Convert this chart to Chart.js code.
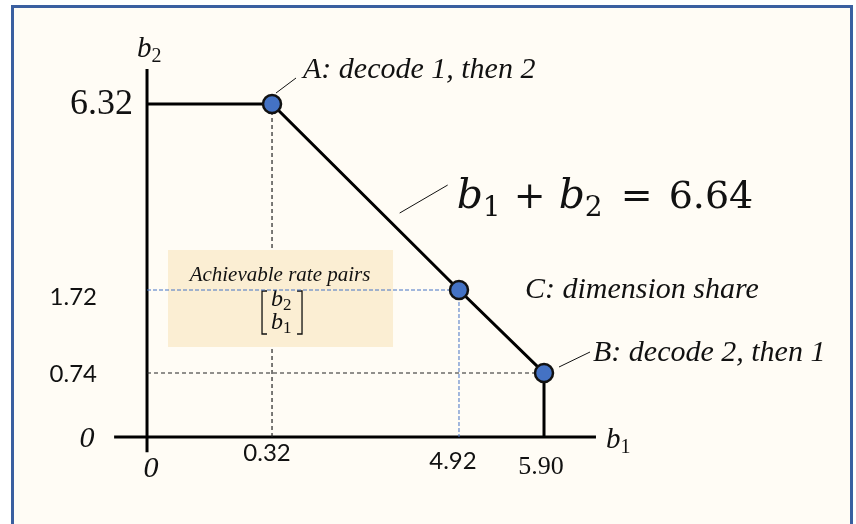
<!DOCTYPE html>
<html>
<head>
<meta charset="utf-8">
<script src="https://cdn.jsdelivr.net/npm/chart.js@4/dist/chart.umd.min.js"></script>
<style>
  html, body { margin: 0; padding: 0; background: #fff; overflow: hidden; }
  #frame { position: absolute; left: 11px; top: 5px; width: 842px; height: 600px;
           box-sizing: border-box; border: 3px solid #3a5fa0; background: #fffcf5; }
  #wrap { position: absolute; left: 0; top: 0; width: 856px; height: 524px; }
</style>
</head>
<body>
<div id="frame"></div>
<div id="wrap"><canvas id="regionChart" width="856" height="524"></canvas></div>
<script>
// corner points of the rate region (b1, b2)
const cornerB1 = [0, 0.32, 4.92, 5.90, 5.90];
const cornerB2 = [6.32, 6.32, 1.72, 0.74, 0];
// marked operating points
const pointNames = ['A', 'C', 'B'];
const pointB1 = [0.32, 4.92, 5.90];
const pointB2 = [6.32, 1.72, 0.74];
const pointNotes = ['A: decode 1, then 2', 'C: dimension share', 'B: decode 2, then 1'];
const sumRate = 6.64;

const xTickValues = [0, 0.32, 4.92, 5.90];
const xTickLabels = ['0', '0.32', '4.92', '5.90'];
const yTickValues = [6.32, 1.72, 0.74, 0];
const yTickLabels = ['6.32', '1.72', '0.74', '0'];

const xAxisRange = [-0.35, 6.53];
const yAxisRange = [-0.2, 6.86];

const serif = '"Liberation Serif", "Times New Roman", serif';
const sans = 'Lato, "Noto Sans", sans-serif';
const mathFont = '"DejaVu Serif", serif';

// the drawing is not to scale, so the axes use a piecewise linear scale
function interp(knots, v, from, to) {
  let i = 0;
  while (i < knots.length - 2 && v > knots[i + 1][from]) i++;
  const a = knots[i], b = knots[i + 1];
  return a[to] + (v - a[from]) * (b[to] - a[to]) / (b[from] - a[from]);
}

class BrokenScale extends Chart.LinearScale {
  getPixelForValue(value) {
    const f = interp(this.options.knots, value, 0, 1);
    return this.isHorizontal() ? this.left + f * this.width : this.bottom - f * this.height;
  }
  getValueForPixel(pixel) {
    const f = this.isHorizontal() ? (pixel - this.left) / this.width : (this.bottom - pixel) / this.height;
    return interp(this.options.knots, f, 1, 0);
  }
}
BrokenScale.id = 'broken';
BrokenScale.defaults = Chart.LinearScale.defaults;
Chart.register(BrokenScale);

const pts = (xs, ys) => xs.map((x, i) => ({ x: x, y: ys[i] }));

// one line of mixed-font text; r.at puts a run at a fixed offset
function drawRuns(ctx, list, x, y) {
  let cx = x;
  list.forEach(r => {
    ctx.font = r.font;
    const px = r.at !== undefined ? x + r.at : cx;
    ctx.fillText(r.text, px, y + (r.dy || 0));
    cx = px + ctx.measureText(r.text).width;
  });
}

const yTickStyle = [
  { font: `36px ${serif}`, dx: -14, dy: 1, align: 'right' },
  { font: `24px ${sans}`, dx: -50, dy: 7, align: 'right' },
  { font: `24px ${sans}`, dx: -50, dy: 1, align: 'right' },
  { font: `italic 30px ${serif}`, dx: -60, dy: 2, align: 'center' }
];
const xTickStyle = [
  { font: `italic 30px ${serif}`, dx: 4, dy: 32 },
  { font: `24px ${sans}`, dx: -5, dy: 16 },
  { font: `24px ${sans}`, dx: -6, dy: 24 },
  { font: `26px ${serif}`, dx: -3, dy: 30 }
];

const BLUE_INDEX = 2;

const regionPlugin = {
  id: 'regionNotes',
  beforeDatasetDraw(chart, args) {
    if (args.index !== BLUE_INDEX) return;
    const ctx = chart.ctx;
    const x0 = chart.scales.x.getPixelForValue(0);
    const yc = chart.scales.y.getPixelForValue(pointB2[1]);
    ctx.save();
    ctx.fillStyle = '#fbeed3';
    ctx.fillRect(x0 + 21, yc - 40, 225, 97);
    ctx.fillStyle = '#111';
    ctx.textBaseline = 'alphabetic';
    ctx.textAlign = 'center';
    ctx.font = `italic 21px ${serif}`;
    ctx.fillText('Achievable rate pairs', x0 + 133, yc - 9);
    ctx.textAlign = 'left';
    const mx = x0 + 124;
    drawRuns(ctx, [{ text: 'b', font: `italic 24px ${serif}` }, { text: '2', font: `17px ${serif}`, dy: 4 }], mx, yc + 16);
    drawRuns(ctx, [{ text: 'b', font: `italic 24px ${serif}` }, { text: '1', font: `17px ${serif}`, dy: 4 }], mx, yc + 39);
    // matrix brackets
    ctx.strokeStyle = '#111';
    ctx.lineWidth = 1.3;
    ctx.beginPath();
    ctx.moveTo(mx - 4, yc + 1); ctx.lineTo(mx - 9, yc + 1); ctx.lineTo(mx - 9, yc + 44); ctx.lineTo(mx - 4, yc + 44);
    ctx.moveTo(mx + 26, yc + 1); ctx.lineTo(mx + 31, yc + 1); ctx.lineTo(mx + 31, yc + 44); ctx.lineTo(mx + 26, yc + 44);
    ctx.stroke();
    ctx.restore();
  },
  afterDatasetsDraw(chart) {
    const ctx = chart.ctx;
    const xs = chart.scales.x, ys = chart.scales.y;
    const x0 = xs.getPixelForValue(0), y0 = ys.getPixelForValue(0);
    ctx.save();
    ctx.fillStyle = '#111';

    // tick labels
    ctx.textBaseline = 'middle';
    yTickValues.forEach((v, i) => {
      const s = yTickStyle[i];
      ctx.font = s.font;
      ctx.textAlign = s.align;
      ctx.fillText(yTickLabels[i], x0 + s.dx, ys.getPixelForValue(v) + s.dy);
    });
    xTickValues.forEach((v, i) => {
      const s = xTickStyle[i];
      ctx.font = s.font;
      ctx.textAlign = 'center';
      ctx.fillText(xTickLabels[i], xs.getPixelForValue(v) + s.dx, y0 + s.dy);
    });

    // axis titles
    ctx.textAlign = 'left';
    ctx.textBaseline = 'alphabetic';
    const yTop = ys.getPixelForValue(yAxisRange[1]);
    drawRuns(ctx, [{ text: 'b', font: `italic 29px ${serif}` }, { text: '2', font: `20px ${serif}`, dy: 5 }], x0 - 10, yTop - 12);
    const xEnd = xs.getPixelForValue(xAxisRange[1]);
    drawRuns(ctx, [{ text: 'b', font: `italic 29px ${serif}` }, { text: '1', font: `20px ${serif}`, dy: 5 }], xEnd + 10, y0 + 11);

    // point notes with leader lines
    const P = pointB1.map((v, i) => ({ x: xs.getPixelForValue(v), y: ys.getPixelForValue(pointB2[i]) }));
    ctx.strokeStyle = '#111';
    ctx.lineWidth = 1;
    ctx.beginPath();
    ctx.moveTo(P[0].x + 4, P[0].y - 11); ctx.lineTo(P[0].x + 24, P[0].y - 26);
    ctx.moveTo(P[2].x + 15, P[2].y - 6); ctx.lineTo(P[2].x + 46, P[2].y - 21);
    const t = 0.64;
    const lx = P[0].x + t * (P[1].x - P[0].x) + 8, ly = P[0].y + t * (P[1].y - P[0].y) - 10;
    ctx.moveTo(lx, ly); ctx.lineTo(lx + 48, ly - 28);
    ctx.stroke();

    ctx.font = `italic 30px ${serif}`;
    ctx.fillText(pointNotes[0], P[0].x + 31, P[0].y - 26);
    ctx.fillText(pointNotes[1], P[1].x + 66, P[1].y + 8);
    ctx.fillText(pointNotes[2], P[2].x + 49, P[2].y - 12);

    // sum-rate equation
    const ex = lx + 57, ey = ly - 5;
    drawRuns(ctx, [
      { text: 'b', font: `italic 41px ${mathFont}`, at: 0 },
      { text: '1', font: `28px ${mathFont}`, dy: 8, at: 26 },
      { text: '+', font: `38px ${mathFont}`, at: 57 },
      { text: 'b', font: `italic 41px ${mathFont}`, at: 102 },
      { text: '2', font: `28px ${mathFont}`, dy: 8, at: 128 },
      { text: '=', font: `38px ${mathFont}`, at: 164 },
      { text: sumRate.toFixed(2), font: `38px ${mathFont}`, at: 212 }
    ], ex, ey);
    ctx.restore();
  }
};

const ctx = document.getElementById('regionChart').getContext('2d');
new Chart(ctx, {
  type: 'line',
  data: {
    datasets: [
      {
        data: pts(pointB1, pointB2),
        showLine: false,
        pointRadius: 9,
        pointBackgroundColor: '#4472c4',
        pointBorderColor: '#111',
        pointBorderWidth: 2.5,
        order: 0
      },
      {
        data: pts(cornerB1, cornerB2),
        borderColor: '#000',
        borderWidth: 3,
        pointRadius: 0,
        order: 1
      },
      {
        data: pts([0, pointB1[1], pointB1[1]], [pointB2[1], pointB2[1], 0]),
        borderColor: '#4472c4',
        borderWidth: 1,
        borderDash: [4, 2],
        pointRadius: 0,
        order: 2
      },
      {
        data: pts([pointB1[0], pointB1[0]], [pointB2[0], 0]),
        borderColor: '#222',
        borderWidth: 1.2,
        borderDash: [4, 3],
        pointRadius: 0,
        order: 3
      },
      {
        data: pts([0, pointB1[2]], [pointB2[2], pointB2[2]]),
        borderColor: '#222',
        borderWidth: 1.2,
        borderDash: [4, 3],
        pointRadius: 0,
        order: 3
      },
      {
        data: pts(xAxisRange, [0, 0]),
        borderColor: '#000',
        borderWidth: 3,
        pointRadius: 0,
        order: 5
      },
      {
        data: pts([0, 0], yAxisRange),
        borderColor: '#000',
        borderWidth: 3,
        pointRadius: 0,
        order: 5
      }
    ]
  },
  options: {
    responsive: false,
    animation: false,
    layout: { padding: { left: 100, right: 246, top: 60, bottom: 64 } },
    scales: {
      x: {
        type: 'broken', display: false, min: -0.5, max: 6.7,
        knots: [[-0.5, 0], [0, 0.0922], [0.32, 0.3373], [4.92, 0.7039], [5.90, 0.8706], [6.7, 1]]
      },
      y: {
        type: 'broken', display: false, min: -0.3, max: 7.0,
        knots: [[-0.3, 0], [0, 0.0575], [0.74, 0.2175], [1.72, 0.425], [6.32, 0.89], [7.0, 1]]
      }
    },
    elements: { line: { tension: 0, fill: false } },
    plugins: { legend: { display: false }, tooltip: { enabled: false } }
  },
  plugins: [regionPlugin]
});
</script>
</body>
</html>
